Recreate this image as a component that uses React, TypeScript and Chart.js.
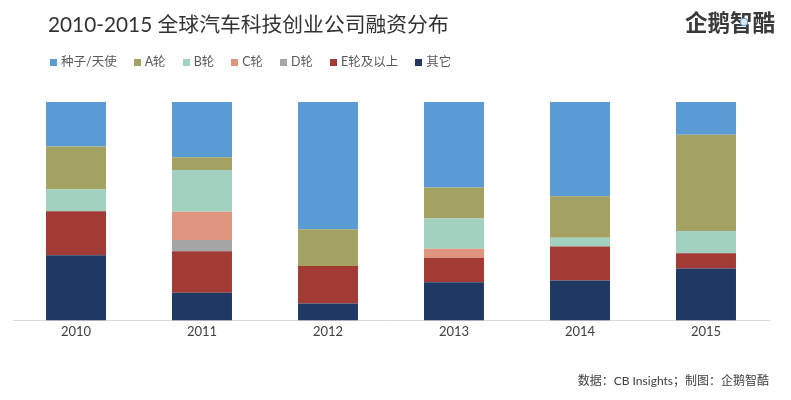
import React, { useEffect, useRef } from "react";
import { Chart, registerables } from "chart.js";

Chart.register(...registerables);

const years = ["2010", "2011", "2012", "2013", "2014", "2015"];
const seriesNames = ["种子/天使", "A轮", "B轮", "C轮", "D轮", "E轮及以上", "其它"];
const seriesColors = ["#5B9BD5", "#A3A263", "#A2D2BF", "#E0957F", "#A5A5A5", "#A23B35", "#203864"];
const seed = [20.4, 25.3, 58.3, 39.2, 43.2, 15.0];
const roundA = [19.6, 5.8, 16.8, 14.1, 19.0, 44.1];
const roundB = [10.0, 19.1, 0, 13.9, 4.0, 10.1];
const roundC = [0, 13.0, 0, 4.1, 0, 0];
const roundD = [0, 5.1, 0, 0, 0, 0];
const roundE = [20.2, 19.0, 17.2, 11.2, 15.5, 7.0];
const others = [29.8, 12.7, 7.7, 17.5, 18.3, 23.8];

const titleText = "2010-2015 全球汽车科技创业公司融资分布";
const sourceText = "数据：CB Insights；制图：企鹅智酷";
const logoText = "企鹅智酷";

const FONT = "Lato, 'Noto Sans CJK SC', sans-serif";

export default function App() {
  const ref = useRef<HTMLCanvasElement | null>(null);

  useEffect(() => {
    if (!ref.current) return;
    const values = [seed, roundA, roundB, roundC, roundD, roundE, others];
    const datasets = values
      .map((data, i) => ({
        label: seriesNames[i],
        data,
        backgroundColor: seriesColors[i],
        borderWidth: 0,
        barPercentage: 0.476,
        categoryPercentage: 1,
      }))
      .reverse();
    const chart = new Chart(ref.current, {
      type: "bar",
      data: { labels: years, datasets },
      options: {
        animation: false,
        responsive: false,
        layout: { padding: { left: 13, right: 22, top: 102, bottom: 56 } },
        plugins: { legend: { display: false }, title: { display: false }, tooltip: { enabled: false } },
        scales: {
          x: {
            stacked: true,
            grid: { display: false, drawTicks: false, tickLength: 0 },
            border: { color: "#D9D9D9", width: 1 },
            ticks: { color: "#404040", font: { family: FONT, size: 13 }, padding: 4 },
          },
          y: {
            stacked: true,
            display: false,
            min: 0,
            max: 100,
          },
        },
      },
    });
    return () => chart.destroy();
  }, []);

  return (
    <div style={{ position: "fixed", left: 0, top: 0, width: 791, height: 400, background: "#fff", overflow: "hidden", fontFamily: FONT }}>
      <canvas ref={ref} width={791} height={400} style={{ position: "absolute", left: 0, top: 0, width: 791, height: 400 }} />
      <div style={{ position: "absolute", left: 48, top: 10, fontSize: 20.8, color: "#333", whiteSpace: "nowrap", lineHeight: "28px" }}>{titleText}</div>
      <div style={{ position: "absolute", left: 50, top: 53, display: "flex", fontSize: 12.5, color: "#595959", lineHeight: "18px", whiteSpace: "nowrap" }}>
        {seriesNames.map((n, i) => (
          <div key={n} style={{ display: "flex", alignItems: "center", marginRight: 17 }}>
            <span style={{ display: "inline-block", width: 7, height: 7, background: seriesColors[i], marginRight: 4 }} />
            <span>{n}</span>
          </div>
        ))}
      </div>
      <div style={{ position: "absolute", left: 685, top: 8, fontSize: 22.5, fontWeight: 600, color: "#3A3A3A", lineHeight: "30px", letterSpacing: 0, whiteSpace: "nowrap" }}>
        {logoText}
        <span style={{ position: "absolute", left: 55, top: 10, width: 6, height: 6, borderRadius: 3, border: "1px solid #5B9BD5", background: "#dbe9f7" }} />
      </div>
      <div style={{ position: "absolute", right: 22, top: 372, fontSize: 12, color: "#404040", whiteSpace: "nowrap", lineHeight: "18px" }}>{sourceText}</div>
    </div>
  );
}
